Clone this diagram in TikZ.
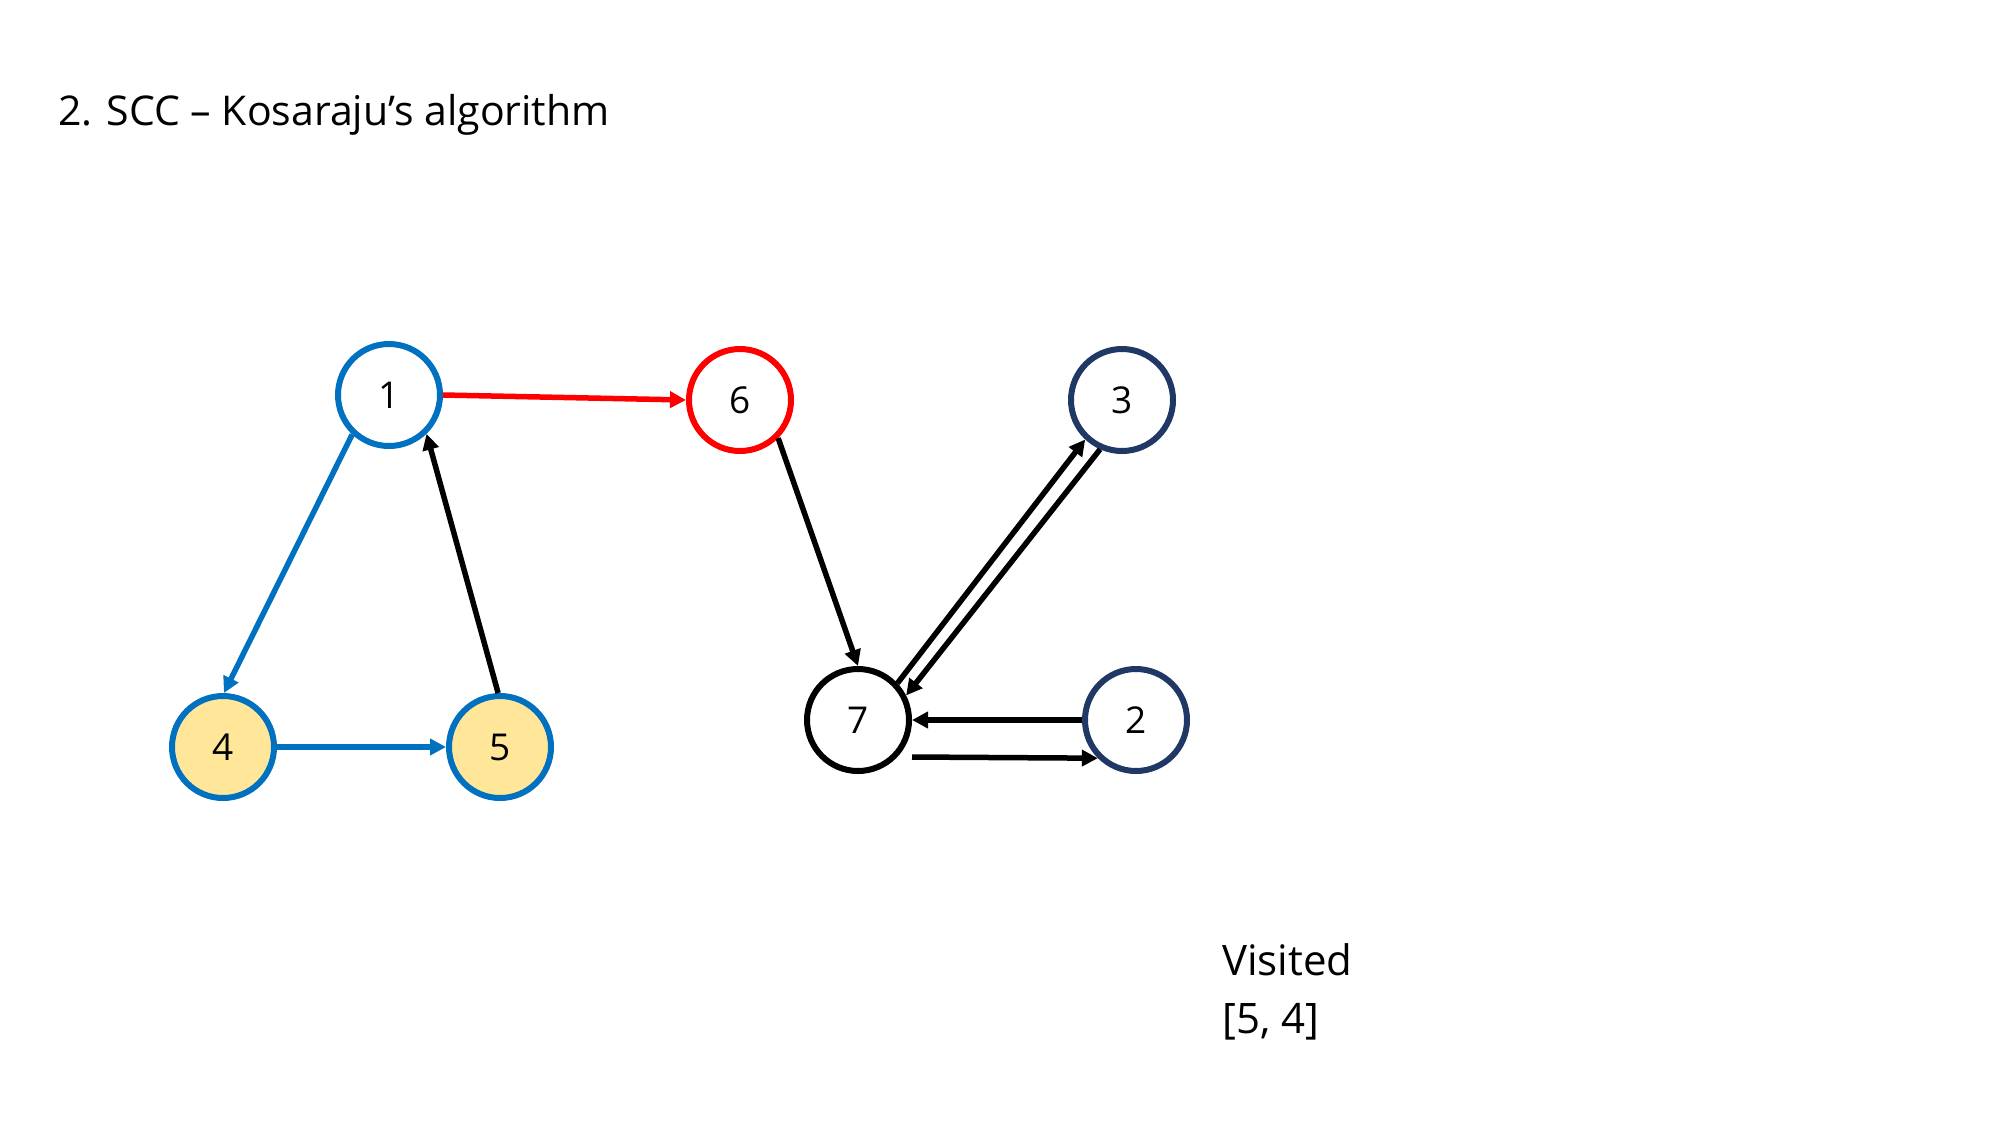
\documentclass[tikz,border=0pt]{standalone}
\usepackage{fontspec}
\setmainfont{Open Sans}
\usetikzlibrary{arrows.meta}
\definecolor{cblue}{HTML}{0070C0}
\definecolor{cred}{HTML}{FF0000}
\definecolor{cnavy}{HTML}{203864}
\definecolor{cyel}{HTML}{FFE699}
\tikzset{
  vtx/.style={circle, draw, line width=6pt, minimum size=102pt, inner sep=0pt, fill=white, font=\fontsize{37pt}{42pt}\selectfont},
  edge/.style={line width=5.5pt, -{Triangle[length=16pt,width=16pt]}},
  lbl/.style={anchor=base west, inner sep=0pt}
}
\begin{document}
\begin{tikzpicture}[x=1pt,y=-1pt]
\useasboundingbox (0,0) rectangle (2000,1125);
\node[lbl, font=\fontsize{41pt}{48pt}\selectfont] (title) at (58,125) {2. SCC – Kosaraju’s algorithm};

\node[vtx, draw=cblue] (n1) at (389,395) {1};
\node[vtx, draw=cred] (n6) at (740,400) {6};
\node[vtx, draw=cnavy] (n3) at (1122,400) {3};
\node[vtx, draw=cblue, fill=cyel] (n4) at (223,747) {4};
\node[vtx, draw=cblue, fill=cyel] (n5) at (500,747) {5};
\node[vtx, draw=black] (n7) at (858,720) {7};
\node[vtx, draw=cnavy] (n2) at (1136,720) {2};

\draw[edge, cblue] (n1.227) -- (n4.89);
\draw[edge, cblue] (n4.east) -- (n5.west);
\draw[edge, black] (n5.92) -- (n1.314);
\draw[edge, cred] (n1.east) -- (n6.west);
\draw[edge, black] (n6.315) -- (n7.north);
\draw[edge, black] (n7.43) -- (n3.227);
\draw[edge, black] (n3.246) -- (n7.27);
\draw[edge, black] (n2.west) -- (n7.east);
\draw[edge, black] ([yshift=-37pt]n7.east) -- (n2.225);

\node[lbl, font=\fontsize{42pt}{50pt}\selectfont] (vis) at (1222,975) {Visited};
\node[lbl, font=\fontsize{42pt}{50pt}\selectfont] (vlist) at (1222,1033) {[5, 4]};
\end{tikzpicture}
\end{document}
